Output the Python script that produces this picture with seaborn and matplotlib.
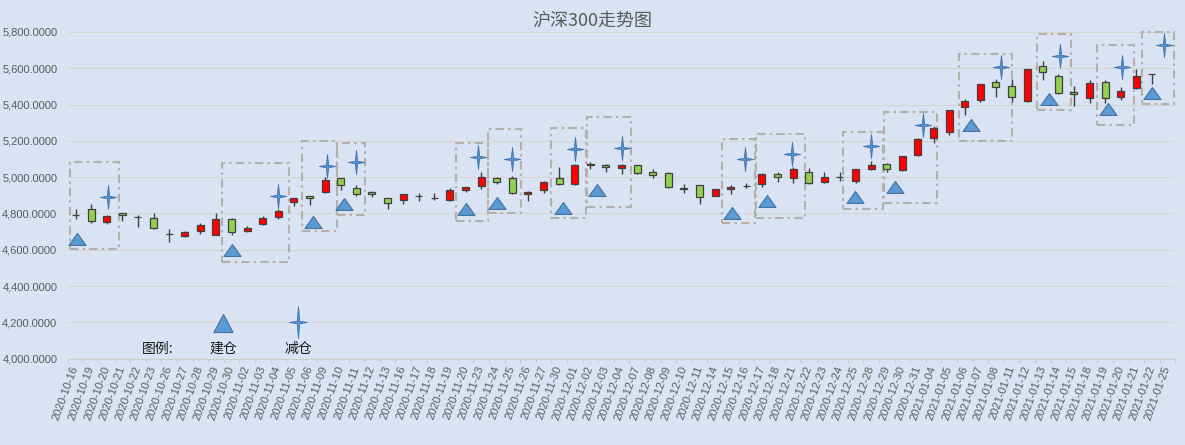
import numpy as np
import pandas as pd
import matplotlib
matplotlib.use("Agg")
import matplotlib.pyplot as plt
from matplotlib.path import Path
from matplotlib.patches import Rectangle
from matplotlib.ticker import FuncFormatter
import seaborn as sns

# trading days shown on the category axis
dates = ["2020-10-16", "2020-10-19", "2020-10-20", "2020-10-21", "2020-10-22", "2020-10-23",
         "2020-10-26", "2020-10-27", "2020-10-28", "2020-10-29", "2020-10-30",
         "2020-11-02", "2020-11-03", "2020-11-04", "2020-11-05", "2020-11-06",
         "2020-11-09", "2020-11-10", "2020-11-11", "2020-11-12", "2020-11-13",
         "2020-11-16", "2020-11-17", "2020-11-18", "2020-11-19", "2020-11-20",
         "2020-11-23", "2020-11-24", "2020-11-25", "2020-11-26", "2020-11-27",
         "2020-11-30", "2020-12-01", "2020-12-02", "2020-12-03", "2020-12-04",
         "2020-12-07", "2020-12-08", "2020-12-09", "2020-12-10", "2020-12-11",
         "2020-12-14", "2020-12-15", "2020-12-16", "2020-12-17", "2020-12-18",
         "2020-12-21", "2020-12-22", "2020-12-23", "2020-12-24", "2020-12-25",
         "2020-12-28", "2020-12-29", "2020-12-30", "2020-12-31",
         "2021-01-04", "2021-01-05", "2021-01-06", "2021-01-07", "2021-01-08",
         "2021-01-11", "2021-01-12", "2021-01-13", "2021-01-14", "2021-01-15",
         "2021-01-18", "2021-01-19", "2021-01-20", "2021-01-21", "2021-01-22",
         "2021-01-25"]

nan = np.nan
open_ = [4792, 4823, 4751, 4801, 4780, 4773, 4688, 4678, 4702, 4683, 4771,
         4702, 4742, 4779, 4861, 4894, 4916, 4994, 4939, 4918, 4883,
         4876, 4894, 4888, 4876, 4927, 4953, 4994, 4994, 4909, 4927,
         4994, 4960, 5072, 5065, 5049, 5065, 5027, 5021, 4935, 4955,
         4898, 4933, 4951, 4960, 5016, 4994, 5030, 4975, 5003, 4981,
         5043, 5071, 5037, 5120, 5214, 5247, 5385, 5427, 5522, 5500,
         5418, 5611, 5556, 5469, 5434, 5522, 5440, 5489, 5567, nan]
high = [4823, 4850, 4793, 4805, 4790, 4801, 4713, 4705, 4749, 4801, 4777,
        4731, 4784, 4823, 4885, 4896, 5000, 4997, 4955, 4926, 4885,
        4907, 4911, 4911, 4939, 4946, 5027, 5001, 5005, 4922, 4979,
        5054, 5073, 5085, 5071, 5071, 5067, 5043, 5030, 4960, 4957,
        4937, 4955, 4966, 5025, 5027, 5058, 5052, 5027, 5027, 5046,
        5087, 5076, 5118, 5216, 5282, 5370, 5432, 5513, 5543, 5543,
        5596, 5642, 5567, 5500, 5537, 5533, 5495, 5594, 5568, nan]
low = [4768, 4746, 4740, 4759, 4724, 4716, 4645, 4672, 4685, 4680, 4683,
       4696, 4735, 4768, 4841, 4845, 4914, 4928, 4898, 4889, 4823,
       4850, 4869, 4874, 4869, 4920, 4937, 4962, 4909, 4867, 4915,
       4959, 4958, 5043, 5030, 5017, 5016, 4997, 4942, 4915, 4850,
       4896, 4907, 4938, 4948, 4975, 4970, 4960, 4966, 4979, 4970,
       5037, 5030, 5035, 5118, 5190, 5234, 5341, 5412, 5440, 5416,
       5416, 5534, 5456, 5390, 5407, 5410, 5423, 5487, 5511, nan]
close = [4794, 4757, 4788, 4790, 4778, 4718, 4686, 4696, 4735, 4771, 4696,
         4718, 4777, 4812, 4883, 4883, 4983, 4955, 4906, 4905, 4856,
         4905, 4897, 4886, 4927, 4944, 5003, 4972, 4911, 4918, 4975,
         4961, 5067, 5069, 5054, 5065, 5021, 5010, 4944, 4938, 4889,
         4933, 4944, 4954, 5016, 4999, 5043, 4966, 5003, 5001, 5043,
         5065, 5043, 5115, 5208, 5269, 5368, 5418, 5511, 5495, 5440,
         5594, 5578, 5466, 5458, 5517, 5434, 5473, 5559, 5566, nan]

# 建仓 (triangles) and 减仓 (stars): x in category units
buy_x = [0.07, 10.05, 15.2, 17.2, 25.0, 27.0, 31.25, 33.4, 42.1, 44.3, 49.95, 52.5, 57.4, 62.4, 66.2, 69.0]
buy_y = [4660, 4598, 4755, 4852, 4825, 4856, 4828, 4929, 4804, 4870, 4892, 4947, 5287, 5432, 5374, 5462]
sell_x = [2.06, 12.98, 16.1, 18.0, 25.8, 27.96, 32.05, 35.0, 42.9, 45.9, 51.0, 54.3, 59.3, 63.1, 67.1, 69.8]
sell_y = [4893, 4896, 5062, 5082, 5113, 5098, 5156, 5159, 5098, 5126, 5172, 5287, 5605, 5668, 5605, 5728]

# dash-dot frames around each trade
box_x0 = [-0.35, 9.37, 14.52, 16.74, 24.37, 26.46, 30.46, 32.77, 41.46, 43.62, 49.18, 51.85, 56.65, 61.62, 65.5, 68.35]
box_x1 = [2.8, 13.67, 16.74, 18.58, 26.46, 28.56, 32.75, 35.61, 43.56, 46.76, 51.74, 55.21, 60.03, 63.81, 67.85, 70.44]
box_lo = [4602, 4534, 4705, 4792, 4760, 4801, 4777, 4834, 4746, 4773, 4823, 4859, 5201, 5370, 5285, 5403]
box_hi = [5084, 5076, 5199, 5190, 5190, 5264, 5270, 5333, 5210, 5236, 5251, 5361, 5677, 5787, 5726, 5802]

df = pd.DataFrame({"date": dates, "open": open_, "high": high, "low": low, "close": close})
df["pos"] = np.arange(len(df))
df = df.dropna()

BG = "#DAE3F3"
TXT = "#595959"
sns.set_style("white", {"axes.facecolor": BG, "figure.facecolor": BG})
plt.rcParams["font.family"] = ["Liberation Sans", "Noto Sans CJK SC", "DejaVu Sans"]
CJK = ["Noto Sans CJK SC", "DejaVu Sans"]

fig = plt.figure(figsize=(11.85, 4.45), dpi=100)
ax = fig.add_axes([67.7 / 1185, 1 - 358.7 / 445, (1175.3 - 67.7) / 1185, (358.7 - 32) / 445])

# candles
up = df["close"] >= df["open"]
ax.vlines(df["pos"], df["low"], df["high"], color="#404040", lw=1.0, zorder=3)
body_lo = np.minimum(df["open"], df["close"])
body_h = np.maximum((df["close"] - df["open"]).abs(), 1.5)
ax.bar(df["pos"], body_h, bottom=body_lo, width=0.45,
       color=np.where(up, "#FF0000", "#92D050"), edgecolor="#404040", linewidth=0.9, zorder=4)

# frames
for x0, x1, lo, hi in zip(box_x0, box_x1, box_lo, box_hi):
    ax.add_patch(Rectangle((x0, lo), x1 - x0, hi - lo, fill=False, edgecolor="#B3AFAA",
                           linewidth=1.5, linestyle=(0, (4, 2, 1.2, 2)), zorder=2, clip_on=False))

star = Path([(0, 0.5), (0.05, 0.05), (0.34, 0), (0.05, -0.05), (0, -0.5), (-0.05, -0.05),
             (-0.34, 0), (-0.05, 0.05), (0, 0.5)], closed=True)
star_big = Path([(0, 0.5), (0.04, 0.04), (0.28, 0), (0.04, -0.04), (0, -0.5), (-0.04, -0.04),
                 (-0.28, 0), (-0.04, 0.04), (0, 0.5)], closed=True)
tri = Path([(0, 0.35), (0.5, -0.35), (-0.5, -0.35), (0, 0.35)], closed=True)
tri_big = Path([(0, 0.47), (0.5, -0.47), (-0.5, -0.47), (0, 0.47)], closed=True)

sns.scatterplot(x=buy_x, y=buy_y, marker=tri, s=150, color="#5B9BD5", edgecolor="#41719C",
                linewidth=0.8, ax=ax, zorder=6, legend=False, clip_on=False)
sns.scatterplot(x=sell_x, y=sell_y, marker=star, s=300, color="#5592D0", edgecolor="#3F74AE",
                linewidth=0.6, ax=ax, zorder=6, legend=False, clip_on=False)

# hand-made legend inside the plot
sns.scatterplot(x=[9.45], y=[4197], marker=tri_big, s=190, color="#5B9BD5", edgecolor="#41719C",
                linewidth=0.8, ax=ax, zorder=6, legend=False)
sns.scatterplot(x=[14.26], y=[4202], marker=star_big, s=530, color="#5592D0", edgecolor="#3F74AE",
                linewidth=0.6, ax=ax, zorder=6, legend=False)
ax.text(5.3, 4053, "图例:", ha="center", va="center", fontsize=10, color="#1A1A1A", family=CJK)
ax.text(9.45, 4053, "建仓", ha="center", va="center", fontsize=10, color="#1A1A1A", family=CJK)
ax.text(14.26, 4053, "减仓", ha="center", va="center", fontsize=10, color="#1A1A1A", family=CJK)

# axes styling
ax.set_xlim(-0.5, len(dates) - 0.5)
ax.set_ylim(4000, 5800)
ax.set_yticks(np.arange(4000, 5801, 200))
ax.yaxis.set_major_formatter(FuncFormatter(lambda v, p: f"{v:,.4f}"))
ax.grid(axis="y", color="#D8D4CE", linewidth=0.8)
ax.set_axisbelow(True)
ax.set_xticks(np.arange(len(dates)))
ax.set_xticklabels(dates, rotation=70, ha="right", va="center", rotation_mode="anchor")
ax.set_xticks(np.arange(-0.5, len(dates), 1), minor=True)
ax.tick_params(axis="x", which="major", length=0, pad=5.5, labelsize=8, labelcolor=TXT)
ax.tick_params(axis="x", which="minor", length=3, width=0.8, color="#D0CCC6", direction="out", bottom=True)
ax.tick_params(axis="y", length=0, pad=7.5, labelsize=8, labelcolor=TXT)
ax.set_xlabel("")
ax.set_ylabel("")
for side in ["left", "right", "top"]:
    ax.spines[side].set_visible(False)
ax.spines["bottom"].set_color("#D0CCC6")
ax.spines["bottom"].set_linewidth(0.8)

fig.text(0.5, 1 - 20.7 / 445, "沪深300走势图", ha="center", va="center", fontsize=13,
         color=TXT, family=CJK)

fig.savefig("out.png", dpi=100, facecolor=BG)
